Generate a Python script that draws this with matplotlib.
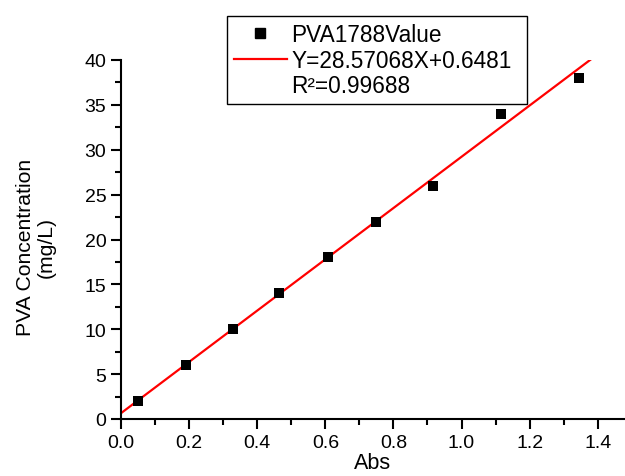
import matplotlib
matplotlib.use("Agg")
import matplotlib.pyplot as plt
import numpy as np
from matplotlib.ticker import MultipleLocator
from matplotlib.lines import Line2D

plt.rcParams['font.family'] = ['Liberation Sans', 'DejaVu Sans']

abs_vals = [0.05, 0.191, 0.329, 0.465, 0.608, 0.75, 0.915, 1.117, 1.344]
conc_vals = [2, 6, 10, 14, 18, 22, 26, 34, 38]
slope = 28.57068
intercept = 0.6481
fit_x = [0.0, 1.4]
fit_label = "Y=28.57068X+0.6481"
r2_label = "R\u00b2=0.99688"
series_label = "PVA1788Value"

fig = plt.figure(figsize=(6.25, 4.77), dpi=100)
ax = fig.add_axes([121/625, 1-420/477, 1-121/625, (420-61)/477])

fx = np.array(fit_x)
ax.plot(fx, slope*fx + intercept, color='#ff0000', lw=1.6, zorder=2)
ax.scatter(abs_vals, conc_vals, marker='s', s=45, color='black', zorder=3, linewidths=0)

ax.set_xlim(0, 1.48)
ax.set_ylim(0, 40)
ax.xaxis.set_major_locator(MultipleLocator(0.2))
ax.xaxis.set_minor_locator(MultipleLocator(0.1))
ax.yaxis.set_major_locator(MultipleLocator(5))
ax.yaxis.set_minor_locator(MultipleLocator(2.5))
ax.xaxis.set_major_formatter(matplotlib.ticker.FormatStrFormatter('%.1f'))
ax.spines['top'].set_visible(False)
ax.spines['right'].set_visible(False)
for s in ['left', 'bottom']:
    ax.spines[s].set_linewidth(1.5)
ax.tick_params(which='major', direction='out', length=7, width=1.5, labelsize=14)
ax.tick_params(which='minor', direction='out', length=4, width=1.5)
ax.set_xlabel("Abs", fontsize=15.5, labelpad=1)
ax.set_ylabel("PVA Concentration\n(mg/L)", fontsize=15.2, linespacing=1.1)
ax.yaxis.set_label_coords(-0.13, 0.48)

handles = [
    Line2D([], [], marker='s', color='black', linestyle='none', markersize=6.5),
    Line2D([], [], color='#ff0000', lw=1.6),
    Line2D([], [], color='none'),
]
leg = fig.legend(handles, [series_label, fit_label, r2_label],
                 loc='upper left',
                 bbox_to_anchor=(227/625, 1-103/477, 300/625, 86/477),
                 mode='expand',
                 fontsize=16.3, frameon=True, fancybox=False, framealpha=1,
                 edgecolor='black', handlelength=2.35, handletextpad=0.2,
                 borderpad=0.3, labelspacing=0.12, borderaxespad=0)
leg.get_frame().set_linewidth(1.0)

fig.savefig("out.png", dpi=100)
